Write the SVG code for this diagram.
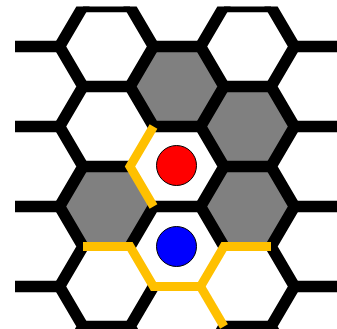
<svg xmlns="http://www.w3.org/2000/svg" xmlns:xlink="http://www.w3.org/1999/xlink" width="337" height="329" viewBox="0 0 337 329">
  <style>
    .cell { fill: #808080; stroke: none; }
    .edge { fill: none; stroke: #000000; stroke-width: 11.5; stroke-linejoin: miter; stroke-linecap: butt; }
    .route { fill: none; stroke: #FFC000; stroke-width: 9; stroke-linejoin: miter; stroke-linecap: butt; }
    .stone { stroke: #000000; stroke-width: 1; }
  </style>
  <defs>
    <clipPath id="board">
      <rect x="15" y="6.5" width="340" height="340"/>
    </clipPath>
    <polygon id="hx" points="-47,0 -23.5,-40 23.5,-40 47,0 23.5,40 -23.5,40"/>
  </defs>
  <rect width="337" height="329" fill="#ffffff"/>
  <g clip-path="url(#board)">
    <g id="cells">
      <use id="cell-c2-r1" class="cell" xlink:href="#hx" x="177" y="86.5"/>
      <use id="cell-c3-r1" class="cell" xlink:href="#hx" x="247.5" y="126.5"/>
      <use id="cell-c3-r2" class="cell" xlink:href="#hx" x="247.5" y="206.5"/>
      <use id="cell-c1-r2" class="cell" xlink:href="#hx" x="106.5" y="206.5"/>
    </g>
    <g id="connectors">
      <path class="edge" d="M59.5,-33.5 L83,6.5 L59.5,46.5 L83,86.5 L59.5,126.5 L83,166.5 L59.5,206.5 L83,246.5 L59.5,286.5 L83,326.5 L59.5,366.5"/>
      <path class="edge" d="M153.5,-33.5 L130,6.5 L153.5,46.5 L130,86.5 L153.5,126.5 L200.5,126.5"/>
      <path class="edge" d="M200.5,206.5 L153.5,206.5 L130,246.5"/>
      <path class="edge" d="M153.5,286.5 L130,326.5 L153.5,366.5"/>
      <path class="edge" d="M200.5,-33.5 L224,6.5 L200.5,46.5 L224,86.5 L200.5,126.5 L224,166.5 L200.5,206.5 L224,246.5"/>
      <path class="edge" d="M224,326.5 L200.5,366.5"/>
      <path class="edge" d="M294.5,-33.5 L271,6.5 L294.5,46.5 L271,86.5 L294.5,126.5 L271,166.5 L294.5,206.5 L271,246.5 L294.5,286.5 L271,326.5 L294.5,366.5"/>
      <path class="edge" d="M83,6.5 H130 M224,6.5 H271 M0,46.5 H59.5 M153.5,46.5 H200.5 M294.5,46.5 H345 M83,86.5 H130 M224,86.5 H271 M0,126.5 H59.5 M294.5,126.5 H345 M83,166.5 H130 M224,166.5 H271 M0,206.5 H59.5 M294.5,206.5 H345 M0,286.5 H59.5 M294.5,286.5 H345 M83,326.5 H130 M224,326.5 H271"/>
      <path class="route" d="M153.5,126.5 L130,166.5 L153.5,206.5"/>
      <path class="route" d="M83,246.5 L130,246.5 L153.5,286.5 L200.5,286.5 L224,246.5 L271,246.5"/>
      <path class="route" d="M200.5,286.5 L224,326.5"/>
    </g>
  </g>
  <g id="red-stone">
    <circle class="stone" cx="176.5" cy="165.5" r="20" fill="#FF0000"/>
  </g>
  <g id="blue-stone">
    <circle class="stone" cx="176.5" cy="246.5" r="20" fill="#0000FF"/>
  </g>
</svg>
